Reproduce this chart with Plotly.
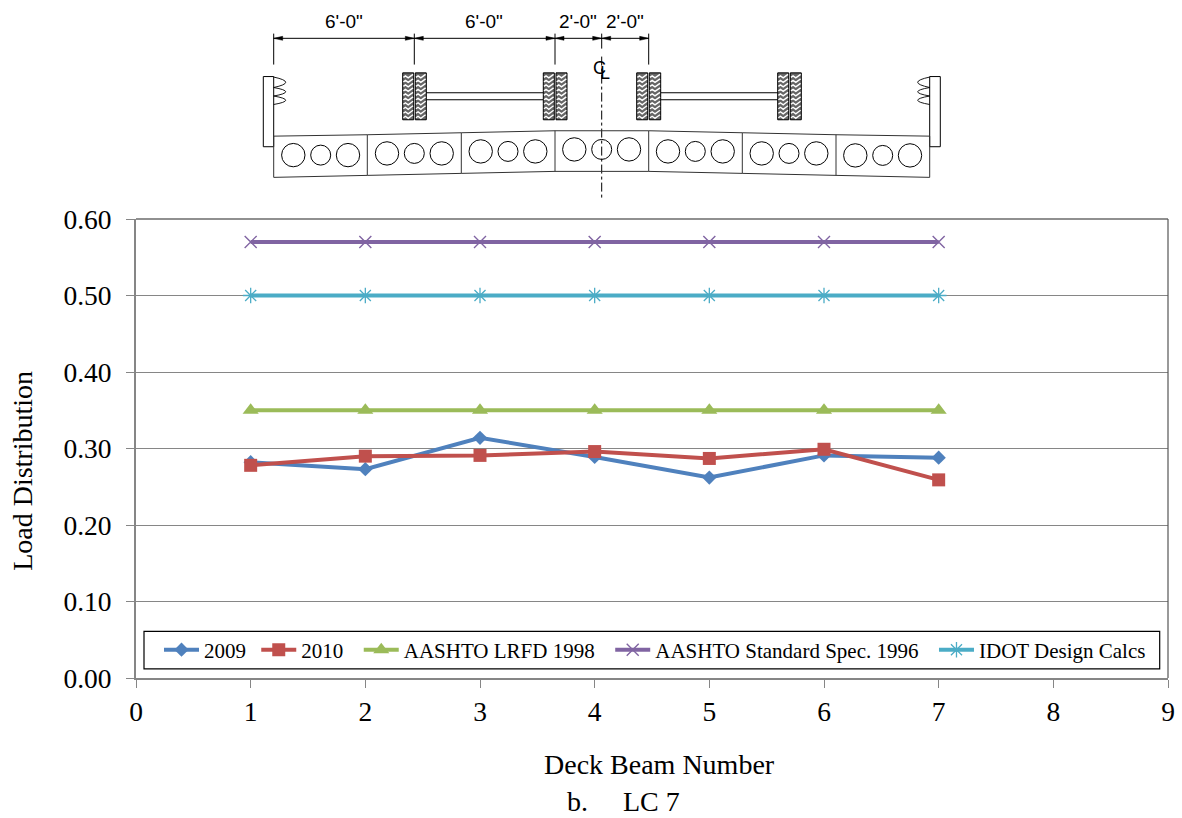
import plotly.graph_objects as go

beam_numbers = [1, 2, 3, 4, 5, 6, 7]
values_2009 = [0.282, 0.273, 0.314, 0.289, 0.262, 0.291, 0.288]
values_2010 = [0.278, 0.290, 0.291, 0.296, 0.287, 0.299, 0.259]
values_lrfd = [0.35, 0.35, 0.35, 0.35, 0.35, 0.35, 0.35]
values_standard = [0.57, 0.57, 0.57, 0.57, 0.57, 0.57, 0.57]
values_idot = [0.50, 0.50, 0.50, 0.50, 0.50, 0.50, 0.50]
y_ticks = [0.0, 0.1, 0.2, 0.3, 0.4, 0.5, 0.6]
x_ticks = [0, 1, 2, 3, 4, 5, 6, 7, 8, 9]

SERIF = "Liberation Serif"
SANS = "Liberation Sans"
L, R, T, B = 136.0, 1168.0, 218.7, 678.5
GREY = "#868686"


def xp(x):
    return (x - L) / (R - L)


def yp(y):
    return (B - y) / (B - T)


def P(x, y):
    return f"{xp(x):.5f},{yp(y):.5f}"


shapes = []


def line(x0, y0, x1, y1, color="black", width=1, dash="solid"):
    shapes.append(dict(type="line", xref="paper", yref="paper", x0=xp(x0), y0=yp(y0), x1=xp(x1), y1=yp(y1),
                       line=dict(color=color, width=width, dash=dash)))


def path(d, color="black", width=1, fill=None):
    s = dict(type="path", xref="paper", yref="paper", path=d, line=dict(color=color, width=width))
    if fill:
        s["fillcolor"] = fill
    shapes.append(s)


def rect(x0, y0, x1, y1, color="black", width=1, fill=None):
    s = dict(type="rect", xref="paper", yref="paper", x0=xp(x0), y0=yp(y0), x1=xp(x1), y1=yp(y1),
             line=dict(color=color, width=width))
    if fill:
        s["fillcolor"] = fill
    shapes.append(s)


def circle(cx, cy, r):
    shapes.append(dict(type="circle", xref="paper", yref="paper", x0=xp(cx - r), x1=xp(cx + r),
                       y0=yp(cy + r), y1=yp(cy - r), line=dict(color="black", width=1)))


# plot frame: top and right edges
line(L, T, R, T, "#222222", 1.2)
line(R, T, R, B, "#555555", 1.2)

# legend box
rect(144, 631.7, 1159.7, 669.3, "black", 1.2)

# --- cross-section diagram ---
DIM_Y = 37.7
dim_x = [273.7, 414.3, 555.0, 601.7, 648.7]
for x in dim_x:
    if x == 601.7:
        line(x, 33, x, 48)
    else:
        line(x, 33, x, 64)
line(dim_x[0], DIM_Y, dim_x[-1], DIM_Y)
for a, b in zip(dim_x[:-1], dim_x[1:]):
    path(f"M{P(a, DIM_Y)} L{P(a + 9, DIM_Y - 2)} L{P(a + 9, DIM_Y + 2)} Z", fill="black", width=0.5)
    path(f"M{P(b, DIM_Y)} L{P(b - 9, DIM_Y - 2)} L{P(b - 9, DIM_Y + 2)} Z", fill="black", width=0.5)

# centre line
line(601.7, 56, 601.7, 199, "black", 1, "dashdot")

# wheels


def wheel(x0, x1):
    y0, y1 = 72.3, 119.3
    rect(x0, y0, x1, y1, "black", 1, "#666666")
    y = y0 + 3
    w = (x1 - x0) / 4
    while y < y1 - 1:
        d = f"M{P(x0 + 0.7, y + 1.5)} L{P(x0 + w, y)} L{P(x0 + 2 * w, y + 2)} L{P(x0 + 3 * w, y)} L{P(x1 - 0.7, y - 1.5)}"
        path(d, "white", 1.4)
        y += 4.5


for a, b in [(402.7, 413.7), (415.3, 426.3), (543.3, 554.3), (556.0, 567.0),
             (636.7, 647.7), (649.3, 660.7), (777.7, 788.7), (790.3, 801.3)]:
    wheel(a, b)
for a, b in [(426.3, 543.3), (660.7, 777.7)]:
    line(a, 92.3, b, 92.3, "black", 1.1)
    line(a, 99.3, b, 99.3, "black", 1.1)

# barriers
rect(263.3, 76, 273.7, 146.3)
rect(929.7, 76, 940.3, 146.3)

# springs


def spring(x, sign):
    ys = [76.5, 87, 95.5, 104]
    cx = x + sign * 24
    d = f"M{P(x, ys[0])}"
    for a, b in zip(ys[:-1], ys[1:]):
        d += f" Q{P(cx, (a + b) / 2)} {P(x, b)}"
    path(d, "black", 0.9)


spring(273.7, 1)
spring(929.7, -1)

# deck beams
xs = [273.7, 367.3, 461.3, 555.0, 648.7, 742.3, 836.0, 929.7]
top = [135.7, 134.3, 132.3, 130.3, 130.3, 132.3, 134.3, 135.7]
bot = [177.0, 175.0, 173.0, 171.0, 171.0, 173.0, 175.0, 177.0]
for x, a, b in zip(xs, top, bot):
    line(x, a, x, b, "#333333", 1)
for i in range(7):
    line(xs[i], top[i], xs[i + 1], top[i + 1], "#333333", 1)
    line(xs[i], bot[i], xs[i + 1], bot[i + 1], "#333333", 1)
for cxs, cy in [((293.3, 320.7, 348.0), 154.7), ((387.0, 414.3, 441.7), 153.0), ((480.7, 508.0, 535.3), 151.0),
                ((574.3, 601.7, 629.0), 149.0), ((668.0, 695.3, 722.7), 151.0), ((761.7, 789.0, 816.3), 153.0),
                ((855.3, 882.7, 910.0), 155.0)]:
    circle(cxs[0], cy, 11.7)
    circle(cxs[1], cy, 10.0)
    circle(cxs[2], cy, 11.7)

annotations = []


def text(x, y, s, size, family, angle=0):
    annotations.append(dict(xref="paper", yref="paper", x=xp(x), y=yp(y), text=s, showarrow=False, textangle=angle,
                            xanchor="center", yanchor="middle", font=dict(size=size, family=family, color="black")))


for x, s in [(343.5, "6'-0\""), (484.0, "6'-0\""), (578.0, "2'-0\""), (625.0, "2'-0\"")]:
    text(x, 21, s, 19, SANS)
text(599, 67.5, "C", 18, SANS)
text(604.5, 72, "L", 18, SANS)
text(623, 802, "b.\u00a0\u00a0\u00a0\u00a0\u00a0LC 7", 28, SERIF)
text(659, 765, "Deck Beam Number", 28, SERIF)
text(23, 471, "Load Distribution", 28, SERIF, -90)

fig = go.Figure()


def add(name, values, color, symbol, size, mlw=0):
    fig.add_trace(go.Scatter(
        x=beam_numbers, y=values, name=name, mode="lines+markers", cliponaxis=False,
        line=dict(color=color, width=4),
        marker=dict(symbol=symbol, size=size, color=color, line=dict(color=color, width=mlw)),
    ))


PAD = "\u00a0"
add("2009" + PAD, values_2009, "#4F81BD", "diamond", 11)
add("2010" + PAD * 2, values_2010, "#C0504D", "square", 13)
add("AASHTO LRFD 1998" + PAD * 2, values_lrfd, "#9BBB59", "triangle-up", 14)
add("AASHTO Standard Spec. 1996" + PAD * 2, values_standard, "#8064A2", "x-thin-open", 12, 1.4)
add("IDOT Design Calcs", values_idot, "#4BACC6", "asterisk-open", 13, 1.3)

fig.update_layout(
    width=1182, height=818,
    margin=dict(l=L, r=1182 - R, t=T, b=818 - B, pad=0, autoexpand=False),
    paper_bgcolor="white", plot_bgcolor="white",
    font=dict(family=SERIF, color="black"),
    shapes=shapes, annotations=annotations,
    legend=dict(orientation="h", x=xp(159), y=yp(650.5), xanchor="left", yanchor="middle",
                itemwidth=35, font=dict(size=21, family=SERIF, color="black"),
                bgcolor="rgba(0,0,0,0)", borderwidth=0, traceorder="normal"),
    xaxis=dict(range=[0, 9], tickvals=x_ticks, ticktext=[str(v) for v in x_ticks],
               ticks="outside", ticklen=8, tickcolor=GREY, tickwidth=1, showline=True, linecolor=GREY, linewidth=2,
               showgrid=False, zeroline=False, tickfont=dict(size=27.5, family=SERIF, color="black")),
    yaxis=dict(range=[0, 0.6], tickvals=y_ticks, ticktext=[f"{v:.2f}" for v in y_ticks],
               ticks="outside", ticklen=8, tickcolor=GREY, tickwidth=1, showline=True, linecolor=GREY, linewidth=2,
               showgrid=True, gridcolor=GREY, gridwidth=1, zeroline=False, ticklabelstandoff=9,
               tickfont=dict(size=27.5, family=SERIF, color="black")),
)

fig.write_html("out.html", config=dict(displayModeBar=False),
               post_script="document.body.style.margin='0';document.body.style.overflow='hidden';")
